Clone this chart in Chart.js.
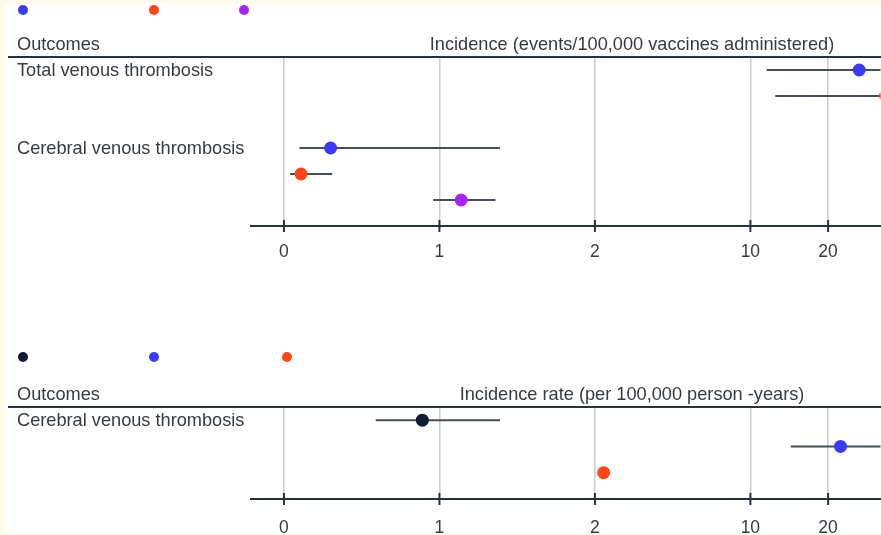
<!DOCTYPE html>
<html>
<head>
<meta charset="utf-8">
<script src="https://cdn.jsdelivr.net/npm/chart.js@4.4.1/dist/chart.umd.min.js"></script>
<style>
  html, body { margin: 0; padding: 0; background: #fffbea; width: 881px; height: 535px; overflow: hidden; position: relative; }
  #sheet { position: absolute; left: 5px; top: 4px; width: 876px; height: 529px; background: #ffffff; }
  canvas { position: absolute; left: 0; }
  #topChart { top: 0; }
  #bottomChart { top: 290px; }
</style>
</head>
<body>
<div id="sheet"></div>
<canvas id="topChart" width="887" height="290"></canvas>
<canvas id="bottomChart" width="887" height="245"></canvas>
<script>
// Axis tick values and their labels (the axis is drawn with uneven spacing between stops)
const TICK_VALUES = [0, 1, 2, 10, 20];
const TICK_LABELS = ['0', '1', '2', '10', '20'];

// Panel 1: incidence per 100,000 vaccines administered
const vaccineOutcomes = ['Total venous thrombosis', 'Cerebral venous thrombosis'];
const vaccineEst1 = [24.0, 0.30];
const vaccineLow1 = [12.1, 0.10];
const vaccineHigh1 = [35.0, 1.39];
const vaccineEst2 = [27.4, 0.11];
const vaccineLow2 = [13.2, 0.04];
const vaccineHigh2 = [45.0, 0.31];
const vaccineEst3 = [40.0, 1.14];
const vaccineLow3 = [28.0, 0.96];
const vaccineHigh3 = [60.0, 1.36];

// Panel 2: incidence rate per 100,000 person-years
const rateOutcomes = ['Cerebral venous thrombosis'];
const rateEst1 = [0.89];
const rateLow1 = [0.59];
const rateHigh1 = [1.39];
const rateEst2 = [21.6];
const rateLow2 = [15.2];
const rateHigh2 = [32.0];
const rateEst3 = [2.45];
const rateLow3 = [null];
const rateHigh3 = [null];

const vaccineColors = ['#3b3bf3', '#ff4616', '#a526f3'];
const rateColors = ['#0f1a35', '#3b3bf3', '#ff4616'];

// Axis stops: where each tick value sits on the underlying linear scale
const AXIS_STOPS = [0, 1, 2, 3, 3.5];
function toAxis(v) {
  if (v <= TICK_VALUES[0]) return AXIS_STOPS[0] + (v - TICK_VALUES[0]);
  for (let i = 1; i < TICK_VALUES.length; i++) {
    if (v <= TICK_VALUES[i]) {
      const t = (v - TICK_VALUES[i - 1]) / (TICK_VALUES[i] - TICK_VALUES[i - 1]);
      return AXIS_STOPS[i - 1] + t * (AXIS_STOPS[i] - AXIS_STOPS[i - 1]);
    }
  }
  const n = TICK_VALUES.length - 1;
  const slope = (AXIS_STOPS[n] - AXIS_STOPS[n - 1]) / (TICK_VALUES[n] - TICK_VALUES[n - 1]);
  return AXIS_STOPS[n] + (v - TICK_VALUES[n]) * slope;
}

const FONT = 'Liberation Sans, Arial, Helvetica, sans-serif';
const TEXT = '#363b42';
const INK = '#28323f';

function buildDatasets(series, colors) {
  const perOutcome = series.length;
  const lines = [];
  const points = [];
  series.forEach((s, k) => {
    const pts = [];
    s.est.forEach((e, i) => {
      const row = i * perOutcome + k;
      pts.push({ x: toAxis(e), y: row });
      if (s.low[i] !== null && s.high[i] !== null) {
        lines.push({
          type: 'line',
          data: [{ x: toAxis(s.low[i]), y: row }, { x: toAxis(s.high[i]), y: row }],
          borderColor: '#454d59',
          borderWidth: 2,
          pointRadius: 0,
          showLine: true,
          order: 2
        });
      }
    });
    points.push({
      type: 'scatter',
      data: pts,
      backgroundColor: colors[k],
      borderWidth: 0,
      pointRadius: 6.5,
      order: 1
    });
  });
  return lines.concat(points);
}

const panelDecor = {
  id: 'panelDecor',
  afterDraw(chart, args, opts) {
    const ctx = chart.ctx;
    const area = chart.chartArea;
    const x = chart.scales.x;
    const y = chart.scales.y;
    ctx.save();
    // legend dots
    opts.dotX.forEach((dx, k) => {
      ctx.beginPath();
      ctx.fillStyle = opts.colors[k];
      ctx.arc(dx, opts.dotY, 5, 0, Math.PI * 2);
      ctx.fill();
    });
    // header rule
    ctx.strokeStyle = INK;
    ctx.lineWidth = 2;
    ctx.beginPath();
    ctx.moveTo(8, area.top);
    ctx.lineTo(chart.width, area.top);
    ctx.stroke();
    // header texts
    ctx.fillStyle = TEXT;
    ctx.font = '18.2px ' + FONT;
    ctx.textBaseline = 'middle';
    ctx.textAlign = 'left';
    ctx.fillText('Outcomes', 17, area.top - 12.5);
    ctx.textAlign = 'center';
    ctx.fillText(opts.title, opts.titleX, area.top - 12.5);
    // outcome labels
    ctx.textAlign = 'left';
    opts.outcomes.forEach((name, i) => {
      ctx.fillText(name, 17, y.getPixelForValue(i * opts.perOutcome) + 1);
    });
    // tick marks crossing the axis
    ctx.strokeStyle = INK;
    ctx.lineWidth = 2;
    TICK_VALUES.forEach(v => {
      const px = x.getPixelForValue(toAxis(v));
      ctx.beginPath();
      ctx.moveTo(px, area.bottom - 6);
      ctx.lineTo(px, area.bottom + 6);
      ctx.stroke();
    });
    ctx.restore();
  }
};

function makeChart(id, series, colors, outcomes, cfg) {
  const rows = outcomes.length * series.length;
  return new Chart(document.getElementById(id), {
    data: { datasets: buildDatasets(series, colors) },
    options: {
      responsive: false,
      animation: false,
      events: [],
      layout: { padding: cfg.padding },
      plugins: {
        legend: { display: false },
        tooltip: { enabled: false },
        panelDecor: {
          dotX: cfg.dotX, dotY: cfg.dotY, colors: colors,
          title: cfg.title, titleX: 632,
          outcomes: outcomes, perOutcome: series.length
        }
      },
      scales: {
        x: {
          type: 'linear',
          min: -0.212,
          max: 3.837,
          afterBuildTicks: s => { s.ticks = TICK_VALUES.map(v => ({ value: toAxis(v) })); },
          afterFit: s => { s.height = cfg.axisHeight; },
          grid: { color: '#c8cdd2', lineWidth: 1.5, drawTicks: false },
          border: { display: true, color: INK, width: 2 },
          ticks: {
            callback: (v, i) => TICK_LABELS[i],
            color: TEXT,
            font: { family: FONT, size: 17.5 },
            padding: cfg.tickPad,
            autoSkip: false,
            maxRotation: 0
          }
        },
        y: {
          type: 'linear',
          display: false,
          reverse: true,
          min: -0.5,
          max: rows
        }
      }
    },
    plugins: [panelDecor]
  });
}

makeChart('topChart',
  [
    { est: vaccineEst1, low: vaccineLow1, high: vaccineHigh1 },
    { est: vaccineEst2, low: vaccineLow2, high: vaccineHigh2 },
    { est: vaccineEst3, low: vaccineLow3, high: vaccineHigh3 }
  ],
  vaccineColors, vaccineOutcomes,
  {
    padding: { left: 251, right: 0, top: 57, bottom: 24 },
    axisHeight: 40, tickPad: 16,
    dotX: [23, 154, 244], dotY: 10,
    title: 'Incidence (events/100,000 vaccines administered)'
  });

makeChart('bottomChart',
  [
    { est: rateEst1, low: rateLow1, high: rateHigh1 },
    { est: rateEst2, low: rateLow2, high: rateHigh2 },
    { est: rateEst3, low: rateLow3, high: rateHigh3 }
  ],
  rateColors, rateOutcomes,
  {
    padding: { left: 251, right: 0, top: 117, bottom: 0 },
    axisHeight: 36, tickPad: 19,
    dotX: [23, 154, 287], dotY: 67,
    title: 'Incidence rate (per 100,000 person -years)'
  });
</script>
</body>
</html>
